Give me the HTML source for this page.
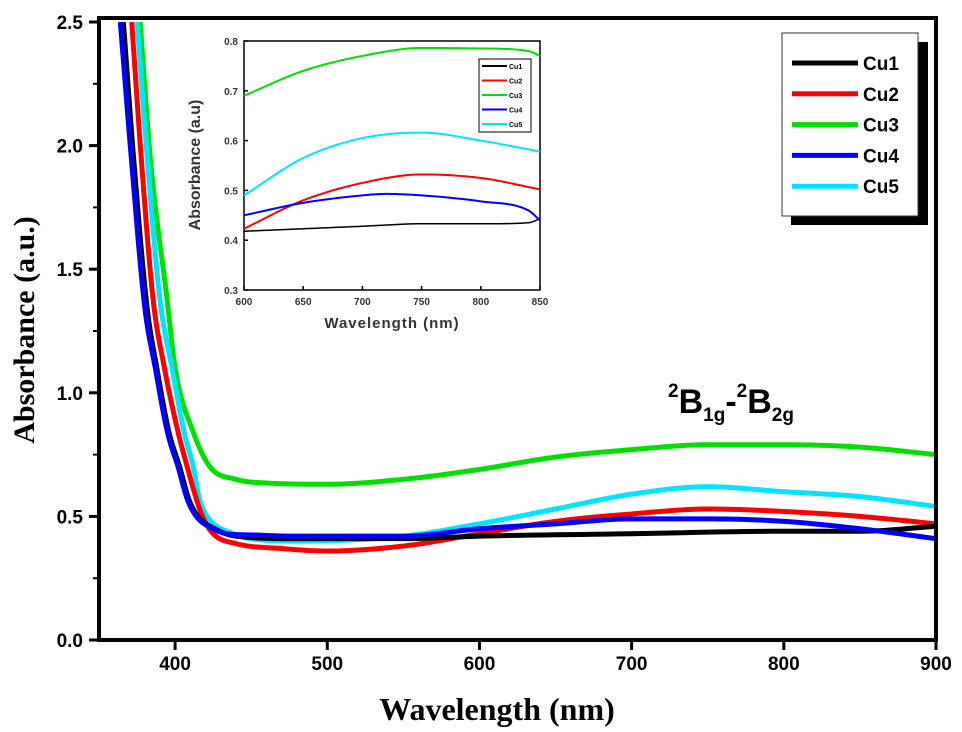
<!DOCTYPE html>
<html><head><meta charset="utf-8"><style>
html,body{margin:0;padding:0;background:#fff}
svg{display:block}
text{font-family:"Liberation Sans",sans-serif}
</style></head><body>
<svg id="chart" width="962" height="732" viewBox="0 0 962 732">
<g id="main-curves"></g>
<g id="axes"></g>
<g id="inset"></g>
<g id="legend"></g>
<text x="668" y="413" font-size="34" font-weight="bold"><tspan font-size="19" dy="-16">2</tspan><tspan dy="16">B</tspan><tspan font-size="19" dy="8">1g</tspan><tspan dy="-8">-</tspan><tspan font-size="19" dy="-16">2</tspan><tspan dy="16">B</tspan><tspan font-size="19" dy="8">2g</tspan></text>
<text x="497" y="720" text-anchor="middle" font-size="32" font-weight="bold" style="font-family:'Liberation Serif',serif">Wavelength (nm)</text>
<text transform="translate(34,330) rotate(-90)" text-anchor="middle" font-size="30" font-weight="bold" style="font-family:'Liberation Serif',serif">Absorbance (a.u.)</text>
</svg>
<script>
const seriesNames = ["Cu1","Cu2","Cu3","Cu4","Cu5"];
const seriesColors = ["#000000","#ff0000","#00e000","#0000ff","#00e5ff"];
const xTicks = [400,500,600,700,800,900];
const yTicks = [0.0,0.5,1.0,1.5,2.0,2.5];
const cu1X = [366,373,381.5,388,396,403,409,415,426,440,480,550,600,700,800,850,900];
const cu1Y = [2.5,1.93,1.35,1.1,0.84,0.7,0.57,0.5,0.45,0.42,0.41,0.41,0.42,0.43,0.44,0.44,0.46];
const cu2X = [371.5,378,385.5,393,402,408,414,418,425,440,470,500,550,600,650,700,750,800,850,900];
const cu2Y = [2.5,1.93,1.38,1.1,0.84,0.7,0.57,0.5,0.43,0.39,0.37,0.36,0.38,0.43,0.48,0.51,0.53,0.52,0.5,0.47];
const cu3X = [377,384,394.7,400,412,423,440,460,500,550,600,650,700,750,800,850,900];
const cu3Y = [2.5,1.93,1.38,1.1,0.84,0.7,0.65,0.635,0.63,0.65,0.69,0.74,0.77,0.79,0.79,0.78,0.75];
const cu4X = [364,371.5,380,387,395,402,408,414,425,434,450,480,550,600,650,700,750,800,850,900];
const cu4Y = [2.5,1.93,1.35,1.1,0.84,0.7,0.57,0.5,0.45,0.43,0.425,0.42,0.42,0.45,0.47,0.49,0.49,0.48,0.45,0.41];
const cu5X = [375,382,390,398,406,412,416,421,438,450,480,550,600,650,700,750,800,850,900];
const cu5Y = [2.5,1.93,1.38,1.1,0.84,0.7,0.57,0.5,0.43,0.41,0.4,0.42,0.47,0.53,0.59,0.62,0.6,0.58,0.54];
const insetXTicks = [600,650,700,750,800,850];
const insetYTicks = [0.3,0.4,0.5,0.6,0.7,0.8];
const insCu1X = [600,650,700,750,800,840,850];
const insCu1Y = [0.418,0.423,0.428,0.433,0.433,0.435,0.443];
const insCu2X = [600,650,700,750,800,850];
const insCu2Y = [0.423,0.48,0.515,0.532,0.525,0.502];
const insCu3X = [600,650,700,750,800,840,850];
const insCu3Y = [0.69,0.74,0.77,0.786,0.785,0.78,0.77];
const insCu4X = [600,650,700,720,750,800,840,850];
const insCu4Y = [0.45,0.475,0.49,0.493,0.49,0.478,0.46,0.44];
const insCu5X = [600,650,700,750,800,850];
const insCu5Y = [0.49,0.565,0.605,0.616,0.6,0.578];

const NS="http://www.w3.org/2000/svg";
function mk(tag,attrs,parent){const e=document.createElementNS(NS,tag);for(const k in attrs)e.setAttribute(k,attrs[k]);parent.appendChild(e);return e;}
function monoPath(X,Y,sx,sy){
  const n=X.length,d=[],m=[];
  for(let i=0;i<n-1;i++)d.push((Y[i+1]-Y[i])/(X[i+1]-X[i]));
  m[0]=d[0];m[n-1]=d[n-2];
  for(let i=1;i<n-1;i++){m[i]=(d[i-1]*d[i]<=0)?0:(d[i-1]+d[i])/2;}
  for(let i=0;i<n-1;i++){if(d[i]===0){m[i]=0;m[i+1]=0;continue;}const a=m[i]/d[i],b=m[i+1]/d[i],s=a*a+b*b;if(s>9){const t=3/Math.sqrt(s);m[i]=t*a*d[i];m[i+1]=t*b*d[i];}}
  let p="M"+sx(X[0]).toFixed(2)+","+sy(Y[0]).toFixed(2);
  for(let i=0;i<n-1;i++){const h=X[i+1]-X[i];
    for(let k=1;k<=12;k++){const t=k/12,t2=t*t,t3=t2*t;
      const y=(2*t3-3*t2+1)*Y[i]+(t3-2*t2+t)*h*m[i]+(-2*t3+3*t2)*Y[i+1]+(t3-t2)*h*m[i+1];
      p+="L"+sx(X[i]+t*h).toFixed(2)+","+sy(y).toFixed(2);}}
  return p;
}

const X0=99,X1=936,Y0=640,Y1=22;
const xs=v=>X0+(v-350)/(900-350)*(X1-X0);
const ys=v=>Y0-(v/2.5)*(Y0-Y1);
const mc=document.getElementById("main-curves");
const mainX=[cu1X,cu2X,cu3X,cu4X,cu5X], mainY=[cu1Y,cu2Y,cu3Y,cu4Y,cu5Y];
const cp=mk("clipPath",{id:"mclip"},mc);
mk("rect",{x:X0,y:Y1,width:X1-X0,height:Y0-Y1},cp);
[2,4,1,0,3].forEach(i=>{
  const p=mk("path",{d:monoPath(mainX[i],mainY[i],xs,ys),fill:"none",stroke:seriesColors[i],"stroke-width":5,"stroke-linejoin":"round","clip-path":"url(#mclip)"},mc);
  
  
});
const ax=document.getElementById("axes");
mk("rect",{x:X0,y:Y1-4,width:X1-X0,height:Y0-Y1+4,fill:"none",stroke:"#000","stroke-width":4},ax);
xTicks.forEach(t=>{
  mk("line",{x1:xs(t),x2:xs(t),y1:Y0,y2:Y0+10,stroke:"#000","stroke-width":3},ax);
  const tx=mk("text",{x:xs(t),y:Y0+30,"text-anchor":"middle","font-size":19,"font-weight":"bold"},ax);tx.textContent=t;
  
  
});
yTicks.forEach(t=>{
  mk("line",{x1:X0-10,x2:X0,y1:ys(t),y2:ys(t),stroke:"#000","stroke-width":3},ax);
  const tx=mk("text",{x:X0-16,y:ys(t)+7,"text-anchor":"end","font-size":19,"font-weight":"bold"},ax);tx.textContent=t.toFixed(1);
  
  
});
for(let t=0.25;t<2.5;t+=0.5) mk("line",{x1:X0-6,x2:X0,y1:ys(t),y2:ys(t),stroke:"#000","stroke-width":2},ax);

const lg=document.getElementById("legend");
mk("rect",{x:791,y:42,width:137,height:183,fill:"#000"},lg);
mk("rect",{x:782,y:33,width:136,height:183,fill:"#fff",stroke:"#333","stroke-width":1},lg);
seriesNames.forEach((n,i)=>{
  const y=63+i*30.8;
  const l=mk("line",{x1:792,x2:858,y1:y,y2:y,stroke:seriesColors[i],"stroke-width":5},lg);
  
  
  const t=mk("text",{x:863,y:y+7,"font-size":19,"font-weight":"bold"},lg);t.textContent=n;
  
  
});

const IX0=244,IX1=540,IY0=290,IY1=41;
const ixs=v=>IX0+(v-600)/250*(IX1-IX0);
const iys=v=>IY0-(v-0.3)/0.5*(IY0-IY1);
const ins=document.getElementById("inset");
mk("rect",{x:IX0,y:IY1,width:IX1-IX0,height:IY0-IY1,fill:"#fff",stroke:"#000","stroke-width":1.5},ins);
const insX=[insCu1X,insCu2X,insCu3X,insCu4X,insCu5X], insY=[insCu1Y,insCu2Y,insCu3Y,insCu4Y,insCu5Y];
[0,1,2,3,4].forEach(i=>{
  const p=mk("path",{d:monoPath(insX[i],insY[i],ixs,iys),fill:"none",stroke:seriesColors[i],"stroke-width":i==0?1.5:2},ins);
  
  
});
insetXTicks.forEach(t=>{
  mk("line",{x1:ixs(t),x2:ixs(t),y1:IY0,y2:IY0-4,stroke:"#000","stroke-width":1.5},ins);
  const tx=mk("text",{x:ixs(t),y:IY0+15,"text-anchor":"middle","font-size":10,"font-weight":"bold","fill":"#333"},ins);tx.textContent=t;
  
  
});
insetYTicks.forEach(t=>{
  mk("line",{x1:IX0,x2:IX0+4,y1:iys(t),y2:iys(t),stroke:"#000","stroke-width":1.5},ins);
  const tx=mk("text",{x:IX0-6,y:iys(t)+4,"text-anchor":"end","font-size":10,"font-weight":"bold","fill":"#333"},ins);tx.textContent=t.toFixed(1);
  
  
});
const ixt=mk("text",{x:(IX0+IX1)/2,y:328,"text-anchor":"middle","font-size":15,"font-weight":"bold","fill":"#333","letter-spacing":"1"},ins);ixt.textContent="Wavelength (nm)";


const iyt=mk("text",{transform:"translate(200,165) rotate(-90)","text-anchor":"middle","font-size":16,"font-weight":"bold","fill":"#333"},ins);iyt.textContent="Absorbance (a.u)";


mk("rect",{x:479,y:59,width:52,height:73,fill:"#fff",stroke:"#000","stroke-width":1},ins);
seriesNames.forEach((n,i)=>{
  const y=66+i*14.5;
  const l=mk("line",{x1:482,x2:507,y1:y,y2:y,stroke:seriesColors[i],"stroke-width":2},ins);
  
  
  const t=mk("text",{x:509,y:y+3,"font-size":7,"font-weight":"bold"},ins);t.textContent=n;
  
  
});
</script>
</body></html>
